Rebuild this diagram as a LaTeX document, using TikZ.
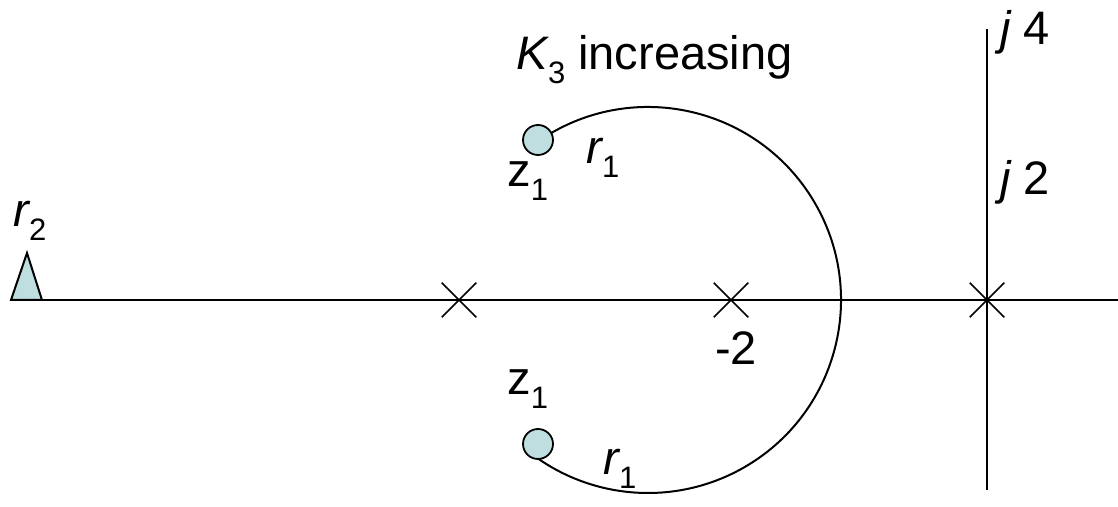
\documentclass[tikz,border=0pt]{standalone}
\usepackage{fontspec}
\setmainfont{Liberation Sans}
\usetikzlibrary{shapes.misc,calc}
\definecolor{zerofill}{RGB}{190,222,224}
\newcommand{\lowsub}[1]{\raisebox{-0.28em}{\fontsize{15.5}{16}\selectfont #1}}

\begin{document}
\begin{tikzpicture}[
  x=0.5pt, y=0.5pt,
  every node/.style={font=\fontsize{23.5}{28}\selectfont, inner sep=0pt},
  pole/.style={draw, cross out, minimum size=16.5pt, line width=0.75pt},
  zero/.style={draw, circle, fill=zerofill, minimum size=15pt, line width=0.9pt},
  axis/.style={line width=1.3pt},
  locus/.style={line width=1pt},
  lbl/.style={anchor=base west}
]
\useasboundingbox (0,0) rectangle (1118,507);

% --- axes ---
\coordinate (re0) at (11,207);
\coordinate (re1) at (1118,207);
\coordinate (im0) at (987,17);
\coordinate (im1) at (987,478);
\draw[axis] (re0) -- (re1);
\draw[axis] (im0) -- (im1);

% --- root locus circle ---
\coordinate (ctr) at (648,207);
\draw[locus] ($(ctr)+(121:193)$) arc[start angle=121, end angle=-125, radius=193];

% --- poles and zeros ---
\node[pole] (p0) at (987,207) {};
\node[pole] (p2) at (731,207) {};
\node[pole] (p4) at (459,207) {};
\node[zero] (z1a) at (538,367) {};
\node[zero] (z1b) at (538,63) {};
\coordinate (r2pole) at (27,254);
\draw[locus, fill=zerofill] (re0) -- (r2pole) -- (42,207) -- cycle;

% --- labels ---
\node[anchor=base east] (kinc) at (793,437) {{\itshape K}\lowsub{3} increasing};
\node[lbl] (z1alab) at (507,320) {z\lowsub{1}};
\node[lbl] (r1alab) at (586,343) {{\itshape r}\lowsub{1}};
\node[lbl] (z1blab) at (507,112) {z\lowsub{1}};
\node[lbl] (r1blab) at (603,32) {{\itshape r}\lowsub{1}};
\node[lbl] (r2lab) at (13,280) {{\itshape r}\lowsub{2}};
\node[anchor=base] (m2lab) at (736,142) {-2};
\node[lbl] (j4lab) at (1000,462) {{\itshape j} 4};
\node[lbl] (j2lab) at (1000,312) {{\itshape j} 2};
\end{tikzpicture}
\end{document}
